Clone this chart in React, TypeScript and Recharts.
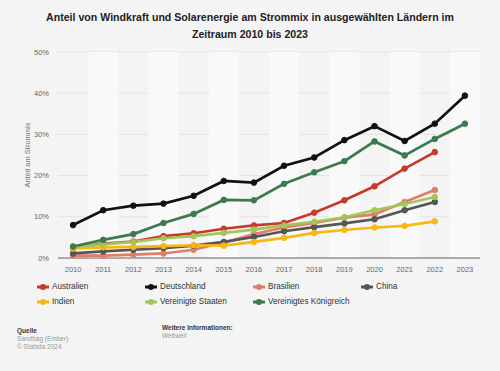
import React from "react";
import {
  LineChart,
  Line,
  XAxis,
  YAxis,
  CartesianGrid,
  ReferenceArea,
} from "recharts";

const years = [
  "2010", "2011", "2012", "2013", "2014", "2015", "2016",
  "2017", "2018", "2019", "2020", "2021", "2022", "2023",
];

const australien = [2.4, 3.5, 4.0, 5.3, 6.0, 7.1, 7.9, 8.5, 11.0, 14.0, 17.4, 21.7, 25.7, null];
const deutschland = [8.0, 11.6, 12.7, 13.2, 15.1, 18.7, 18.3, 22.4, 24.4, 28.6, 32.0, 28.4, 32.6, 39.4];
const brasilien = [0.6, 0.6, 0.8, 1.1, 2.0, 3.7, 5.8, 7.4, 8.5, 9.8, 10.6, 13.6, 16.5, null];
const china = [1.1, 1.6, 2.0, 2.4, 3.0, 3.9, 5.1, 6.5, 7.5, 8.4, 9.4, 11.6, 13.6, null];
const indien = [2.3, 2.6, 2.7, 2.9, 3.1, 3.0, 3.9, 4.9, 6.1, 6.8, 7.4, 7.8, 8.9, null];
const usa = [2.7, 3.3, 3.9, 4.8, 5.3, 6.1, 6.9, 7.9, 8.8, 9.9, 11.6, 13.1, 14.8, null];
const uk = [2.8, 4.4, 5.8, 8.5, 10.7, 14.1, 14.0, 18.0, 20.8, 23.5, 28.3, 24.9, 28.9, 32.6];

const yTicks = [0, 10, 20, 30, 40, 50];

const series = [
  { key: "australien", name: "Australien", color: "#c9392b", values: australien },
  { key: "deutschland", name: "Deutschland", color: "#111111", values: deutschland },
  { key: "brasilien", name: "Brasilien", color: "#e27d67", values: brasilien },
  { key: "china", name: "China", color: "#555555", values: china },
  { key: "indien", name: "Indien", color: "#f7b814", values: indien },
  { key: "usa", name: "Vereinigte Staaten", color: "#a1c65a", values: usa },
  { key: "uk", name: "Vereinigtes Königreich", color: "#3c7a4f", values: uk },
];

const data = years.map((year, i) => {
  const row: any = { year };
  series.forEach((s) => {
    row[s.key] = s.values[i];
  });
  return row;
});

const FONT = "'Liberation Sans', Arial, sans-serif";
const BG = "#f4f4f4";

function LegendItem({ color, name }: { color: string; name: string }) {
  return (
    <div style={{ display: "flex", alignItems: "center", width: 108, height: 15 }}>
      <svg width={15} height={8} style={{ flex: "none" }}>
        <line x1={0} y1={4} x2={12} y2={4} stroke={color} strokeWidth={3} />
        <circle cx={6} cy={4} r={3} fill={color} />
      </svg>
      <span style={{ fontSize: 8.2, color: "#333", whiteSpace: "nowrap" }}>{name}</span>
    </div>
  );
}

export default function App() {
  return (
    <div
      style={{
        position: "absolute",
        left: 0,
        top: 0,
        width: 500,
        height: 371,
        background: BG,
        fontFamily: FONT,
        overflow: "hidden",
      }}
    >
      <div
        style={{
          position: "absolute",
          top: 9,
          left: 0,
          width: 500,
          textAlign: "center",
          fontWeight: "bold",
          fontSize: 10.6,
          lineHeight: "17px",
          color: "#222",
        }}
      >
        Anteil von Windkraft und Solarenergie am Strommix in ausgewählten Ländern im
        <br />
        Zeitraum 2010 bis 2023
      </div>

      <div style={{ position: "absolute", left: 0, top: 0 }}>
        <LineChart
          width={500}
          height={300}
          data={data}
          margin={{ top: 52, right: 20, bottom: 12, left: 0 }}
        >
          {/* every other year gets a lighter column */}
          {years
            .filter((_, i) => i % 2 === 1)
            .map((y) => (
              <ReferenceArea
                key={y}
                x1={y}
                x2={y}
                y1={0}
                y2={50}
                fill="#f9f9f9"
                fillOpacity={1}
                stroke="none"
              />
            ))}
          <CartesianGrid vertical={false} stroke="#e3e3e3" />
          <XAxis
            dataKey="year"
            scale="band"
            axisLine={{ stroke: "#666", strokeWidth: 1 }}
            tickLine={false}
            tickSize={6}
            tickMargin={3}
            tick={{ fontSize: 7.5, fill: "#666", fontFamily: FONT }}
            interval={0}
          />
          <YAxis
            width={58}
            domain={[0, 50]}
            ticks={yTicks}
            tickFormatter={(v) => `${v}%`}
            axisLine={false}
            tickLine={false}
            tickSize={0}
            tickMargin={9}
            tick={{ fontSize: 7.5, fill: "#666", fontFamily: FONT }}
            label={{
              value: "Anteil am Strommix",
              angle: -90,
              position: "center",
              dx: -2,
              style: { fontSize: 7.5, fill: "#777", fontFamily: FONT },
            }}
          />
          {series.map((s) => (
            <Line
              key={s.key}
              type="linear"
              dataKey={s.key}
              name={s.name}
              stroke={s.color}
              strokeWidth={2.7}
              dot={{ r: 2.8, fill: s.color, stroke: s.color, strokeWidth: 1 }}
              activeDot={false}
              isAnimationActive={false}
            />
          ))}
        </LineChart>
      </div>

      <div
        style={{
          position: "absolute",
          left: 37,
          top: 279,
          width: 440,
          display: "flex",
          flexWrap: "wrap",
        }}
      >
        {series.map((s) => (
          <LegendItem key={s.key} color={s.color} name={s.name} />
        ))}
      </div>

      <div style={{ position: "absolute", left: 17, top: 327, fontSize: 6.5, lineHeight: "8px" }}>
        <div style={{ fontWeight: "bold", color: "#333" }}>Quelle</div>
        <div style={{ color: "#999" }}>Sandbag (Ember)</div>
        <div style={{ color: "#999" }}>© Statista 2024</div>
      </div>
      <div style={{ position: "absolute", left: 162, top: 324, fontSize: 6.5, lineHeight: "8px" }}>
        <div style={{ fontWeight: "bold", color: "#333" }}>Weitere Informationen:</div>
        <div style={{ color: "#999" }}>Weltweit</div>
      </div>
    </div>
  );
}
